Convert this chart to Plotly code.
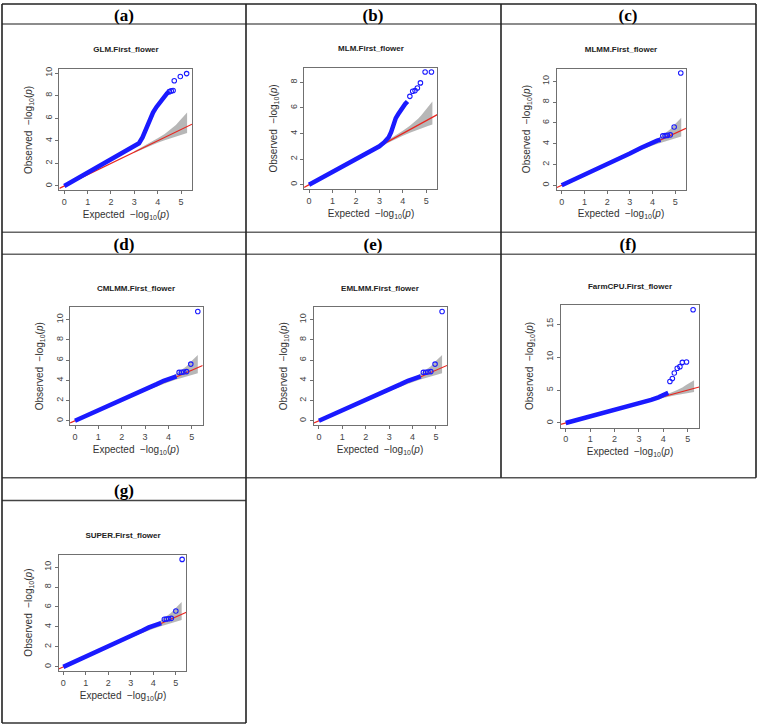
import plotly.graph_objects as go

W, H = 758, 727

# ---------------- data ----------------
panel_labels = ["(a)", "(b)", "(c)", "(d)", "(e)", "(f)", "(g)"]
panel_titles = ["GLM.First_flower", "MLM.First_flower", "MLMM.First_flower",
                "CMLMM.First_flower", "EMLMM.First_flower",
                "FarmCPU.First_flower", "SUPER.First_flower"]
x_ticks = [0, 1, 2, 3, 4, 5]

# dense part of each QQ curve: expected / observed -log10(p)
glm_exp = [0, 0.5, 1.0, 1.5, 2.0, 2.5, 3.0, 3.2, 3.35, 3.5, 3.65, 3.8, 3.95, 4.1, 4.25, 4.4, 4.5]
glm_obs = [0, 0.6, 1.2, 1.78, 2.35, 2.92, 3.5, 3.78, 4.3, 5.1, 5.9, 6.5, 7.0, 7.45, 7.85, 8.2, 8.35]
glm_tail_exp = [4.5, 4.58, 4.66, 4.71, 4.97, 5.24]
glm_tail_obs = [8.35, 8.42, 8.45, 9.32, 9.7, 9.95]

mlm_exp = [0, 0.5, 1.0, 1.5, 2.0, 2.5, 3.0, 3.2, 3.4, 3.5, 3.6, 3.7, 3.8, 3.9, 4.0, 4.1, 4.2]
mlm_obs = [0, 0.5, 1.0, 1.5, 2.0, 2.5, 3.0, 3.3, 3.7, 4.1, 4.7, 5.2, 5.5, 5.8, 6.05, 6.3, 6.5]
mlm_tail_exp = [4.3, 4.42, 4.52, 4.62, 4.75, 4.95, 5.22]
mlm_tail_obs = [6.9, 7.3, 7.35, 7.55, 7.95, 8.8, 8.8]

mlmm_exp = [0, 1.0, 2.0, 3.0, 3.5, 3.8, 4.0, 4.2, 4.35]
mlmm_obs = [0, 1.0, 2.0, 3.05, 3.62, 3.95, 4.1, 4.3, 4.38]
mlmm_tail_exp = [4.45, 4.55, 4.65, 4.78, 4.95, 5.24]
mlmm_tail_obs = [4.75, 4.78, 4.8, 4.85, 5.6, 10.8]

cmlmm_exp = [0, 1.0, 2.0, 3.0, 3.5, 3.8, 4.0, 4.2, 4.35]
cmlmm_obs = [0, 1.0, 2.0, 3.05, 3.62, 3.95, 4.1, 4.3, 4.38]
cmlmm_tail_exp = [4.46, 4.56, 4.66, 4.78, 4.96, 5.26]
cmlmm_tail_obs = [4.78, 4.8, 4.82, 4.86, 5.6, 10.8]

emlmm_exp = [0, 1.0, 2.0, 3.0, 3.5, 3.8, 4.0, 4.2, 4.35]
emlmm_obs = [0, 1.0, 2.0, 3.05, 3.62, 3.95, 4.1, 4.3, 4.38]
emlmm_tail_exp = [4.46, 4.56, 4.66, 4.78, 4.96, 5.26]
emlmm_tail_obs = [4.78, 4.8, 4.82, 4.86, 5.6, 10.8]

farm_exp = [0, 1.0, 2.0, 3.0, 3.5, 3.8, 4.0, 4.1, 4.2]
farm_obs = [0, 0.95, 1.95, 2.95, 3.5, 3.9, 4.2, 4.4, 4.6]
farm_tail_exp = [4.27, 4.37, 4.45, 4.57, 4.68, 4.78, 4.95, 5.22]
farm_tail_obs = [6.3, 6.75, 7.6, 8.3, 8.55, 9.2, 9.25, 17.2]

super_exp = [0, 1.0, 2.0, 3.0, 3.5, 3.8, 4.0, 4.2, 4.35]
super_obs = [0, 1.0, 2.0, 3.05, 3.62, 3.95, 4.1, 4.3, 4.38]
super_tail_exp = [4.49, 4.58, 4.68, 4.8, 5.0, 5.28]
super_tail_obs = [4.77, 4.8, 4.82, 4.86, 5.6, 10.77]

# 95% confidence band around the expected line
band_exp = [3.0, 3.5, 4.0, 4.3, 4.5, 4.65, 4.78, 4.95, 5.1, 5.26]
band_upper = [3.07, 3.62, 4.22, 4.6, 4.9, 5.15, 5.4, 5.8, 6.1, 6.5]
band_lower = [2.94, 3.4, 3.82, 4.05, 4.2, 4.3, 4.4, 4.5, 4.6, 4.7]

y_max = [10.0, 8.8, 10.8, 10.8, 10.8, 17.2, 10.8]
y_dtick = [2, 2, 2, 2, 2, 5, 2]

dense = [(glm_exp, glm_obs), (mlm_exp, mlm_obs), (mlmm_exp, mlmm_obs),
         (cmlmm_exp, cmlmm_obs), (emlmm_exp, emlmm_obs), (farm_exp, farm_obs),
         (super_exp, super_obs)]
tails = [(glm_tail_exp, glm_tail_obs), (mlm_tail_exp, mlm_tail_obs),
         (mlmm_tail_exp, mlmm_tail_obs), (cmlmm_tail_exp, cmlmm_tail_obs),
         (emlmm_tail_exp, emlmm_tail_obs), (farm_tail_exp, farm_tail_obs),
         (super_tail_exp, super_tail_obs)]

# ---------------- layout geometry (pixels) ----------------
# plot boxes: left, right, top, bottom
boxes = [
    (59.4, 192.0, 66.7, 189.0),
    (304.1, 437.3, 65.7, 187.7),
    (556.9, 686.0, 66.7, 188.3),
    (70.1, 202.7, 306.0, 424.3),
    (314.0, 447.0, 306.0, 424.3),
    (560.6, 699.2, 304.0, 426.7),
    (58.6, 186.4, 554.3, 671.0),
]
# table cells: label centres
label_pos = [(124, 13), (373, 13), (628, 13), (124, 243), (373, 243), (628, 243), (124, 489)]

X_RANGE = [-0.21, 5.47]
BLUE = "#1a1aff"

fig = go.Figure()
layout = dict(width=W, height=H, margin=dict(l=0, r=0, t=0, b=0),
              autosize=False, showlegend=False,
              font=dict(family="Liberation Sans, Arial", size=10, color="#333"),
              plot_bgcolor="white", paper_bgcolor="white")

annotations = []
shapes = []

def px(xp):
    return xp / W

def py(yp):
    return 1 - yp / H

for i in range(7):
    n = "" if i == 0 else str(i + 1)
    xa, ya = "x" + n, "y" + n
    L, R, T, B = boxes[i]
    ym = y_max[i]
    yr = [-0.04 * ym, 1.04 * ym]
    axis_common = dict(showgrid=False, zeroline=False, showline=True, mirror=True,
                       linecolor="#707070", linewidth=1, ticks="outside", ticklen=3,
                       tickcolor="#707070", tickwidth=1,
                       tickfont=dict(family="Liberation Sans, Arial", size=9, color="#444"))
    layout["xaxis" + n] = dict(domain=[px(L), px(R)], range=X_RANGE, anchor=ya,
                               tickvals=x_ticks, **axis_common)
    layout["yaxis" + n] = dict(domain=[py(B), py(T)], range=yr, anchor=xa,
                               tick0=0, dtick=y_dtick[i], tickangle=-90, **axis_common)

    # confidence band
    fig.add_trace(go.Scatter(x=band_exp, y=band_lower, mode="lines",
                             line=dict(width=0, color="rgba(0,0,0,0)"),
                             xaxis=xa, yaxis=ya, hoverinfo="skip"))
    fig.add_trace(go.Scatter(x=band_exp, y=band_upper, mode="lines",
                             line=dict(width=0, color="rgba(0,0,0,0)"),
                             fill="tonexty", fillcolor="rgba(170,170,170,0.85)",
                             xaxis=xa, yaxis=ya, hoverinfo="skip"))
    # y = x reference line
    fig.add_trace(go.Scatter(x=X_RANGE, y=X_RANGE, mode="lines",
                             line=dict(color="#e8261f", width=1.2),
                             xaxis=xa, yaxis=ya, hoverinfo="skip"))
    # dense points
    dx, dy = dense[i]
    fig.add_trace(go.Scatter(x=dx, y=dy, mode="lines",
                             line=dict(color=BLUE, width=4.5),
                             xaxis=xa, yaxis=ya))
    tx, ty = tails[i]
    fig.add_trace(go.Scatter(x=tx, y=ty, mode="markers",
                             marker=dict(symbol="circle-open", size=4.5, color=BLUE,
                                         line=dict(width=1.1, color=BLUE)),
                             xaxis=xa, yaxis=ya))

    cx = (L + R) / 2
    cy = (T + B) / 2
    annotations.append(dict(text=panel_titles[i], x=px(cx), y=py(T - 19.5),
                            xref="paper", yref="paper", showarrow=False,
                            width=120, height=12,
                            font=dict(family="Liberation Sans, Arial", size=8, color="#222",
                                      weight="bold"),
                            xanchor="center", yanchor="middle"))
    annotations.append(dict(text="Expected  \u2212log<sub>10</sub>(<i>p</i>)",
                            x=px(cx), y=py(B + 24.5),
                            xref="paper", yref="paper", showarrow=False,
                            width=120, height=16,
                            font=dict(family="Liberation Sans, Arial", size=10, color="#333"),
                            xanchor="center", yanchor="middle"))
    annotations.append(dict(text="Observed  \u2212log<sub>10</sub>(<i>p</i>)",
                            x=px(L - 30), y=py(cy), textangle=-90,
                            xref="paper", yref="paper", showarrow=False,
                            width=120, height=16,
                            font=dict(family="Liberation Sans, Arial", size=10, color="#333"),
                            xanchor="center", yanchor="middle"))
    lx, ly = label_pos[i]
    annotations.append(dict(text=panel_labels[i], x=px(lx), y=py(ly),
                            xref="paper", yref="paper", showarrow=False,
                            width=40, height=20,
                            font=dict(family="Liberation Serif, Times New Roman", size=17,
                                      color="black", weight="bold"),
                            xanchor="center", yanchor="middle"))

# ---------------- table lines ----------------
def hline(x0, x1, y, color="#444", w=1.5):
    shapes.append(dict(type="line", xref="paper", yref="paper",
                       x0=px(x0), x1=px(x1), y0=py(y), y1=py(y),
                       line=dict(color=color, width=w)))

def vline(x, y0, y1, color="#222", w=1.6):
    shapes.append(dict(type="line", xref="paper", yref="paper",
                       x0=px(x), x1=px(x), y0=py(y0), y1=py(y1),
                       line=dict(color=color, width=w)))

hline(2, 756, 2, "#222")
hline(2, 756, 22, "#666")
hline(2, 756, 231, "#666")
hline(2, 756, 253, "#666")
hline(2, 756, 477, "#555")
hline(2, 246, 500, "#444")
hline(2, 246, 723, "#333")
vline(2, 2, 723)
vline(246, 2, 723)
vline(501, 2, 477)
vline(756, 2, 477)

layout["annotations"] = annotations
layout["shapes"] = shapes
fig.update_layout(**layout)
fig.write_html("out.html", config={"displayModeBar": False},
               post_script="document.body.style.margin='0';document.body.style.overflow='hidden';")
